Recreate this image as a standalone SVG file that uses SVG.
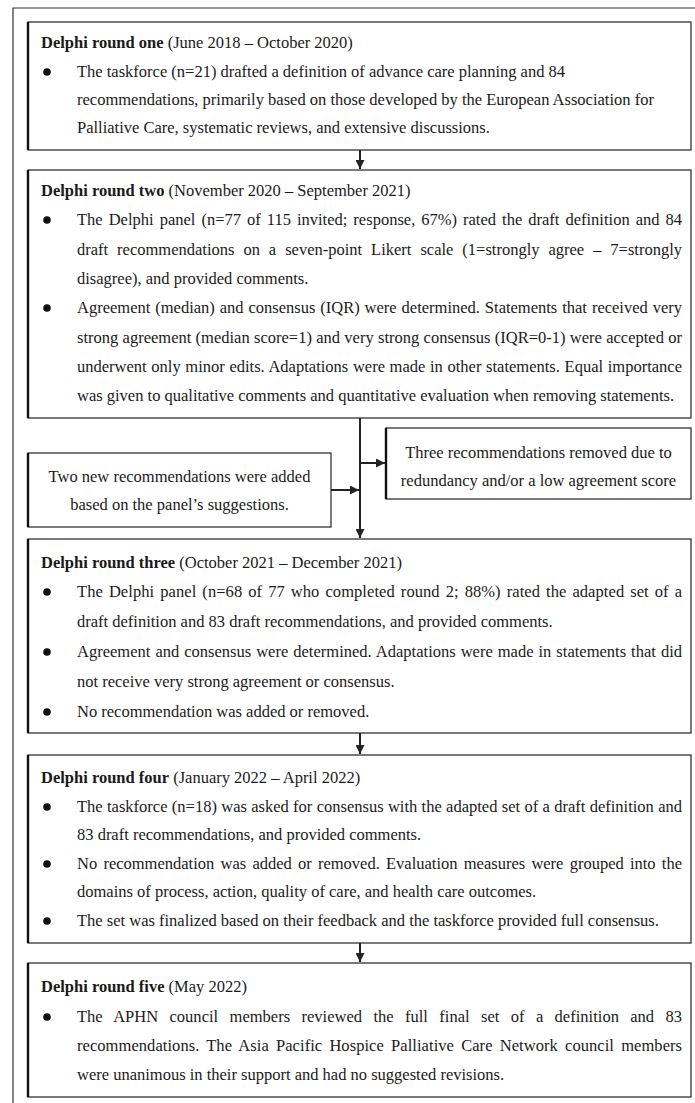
<svg xmlns="http://www.w3.org/2000/svg" width="695" height="1103" viewBox="0 0 695 1103">
<defs>
<style>
.bx{fill:#fff;stroke:#333;stroke-width:1.3}
.le{stroke:#111;stroke-width:2.4}
.t{font-family:"Liberation Serif","Times New Roman",serif;font-size:16.5px;fill:#1a1a1a}
.b{font-weight:bold}
.c{text-anchor:middle}
.dot{fill:#111}
.cn{stroke:#222;stroke-width:2;fill:none}
</style>
<marker id="ah" viewBox="0 0 10 10" refX="10" refY="5" markerWidth="9" markerHeight="9" markerUnits="userSpaceOnUse" orient="auto">
<path d="M0,0 L10,5 L0,10 z" fill="#222"/>
</marker>
</defs>
<rect width="695" height="1103" fill="#fff"/>
<path d="M695,8 H13 V1103" fill="none" stroke="#333" stroke-width="1.2"/>

<g id="round1">
<rect class="bx" x="28" y="22" width="663" height="128"/>
<line class="le" x1="28" y1="22" x2="28" y2="150"/>
<text class="t" x="41" y="48"><tspan class="b">Delphi round one</tspan> (June 2018 – October 2020)</text>
<circle class="dot" cx="47" cy="72" r="3.8"/>
<text class="t" x="77" y="77">The taskforce (n=21) drafted a definition of advance care planning and 84</text>
<text class="t" x="77" y="105">recommendations, primarily based on those developed by the European Association for</text>
<text class="t" x="77" y="133">Palliative Care, systematic reviews, and extensive discussions.</text>
</g>

<g id="round2">
<rect class="bx" x="28" y="170" width="663" height="248"/>
<line class="le" x1="28" y1="170" x2="28" y2="418"/>
<text class="t" x="41" y="196"><tspan class="b">Delphi round two</tspan> (November 2020 – September 2021)</text>
<circle class="dot" cx="47" cy="220" r="3.8"/>
<text class="t" x="77" y="225" word-spacing="1.86" textLength="605" lengthAdjust="spacing">The Delphi panel (n=77 of 115 invited; response, 67%) rated the draft definition and 84</text>
<text class="t" x="77" y="255" word-spacing="4.84" textLength="605" lengthAdjust="spacing">draft recommendations on a seven-point Likert scale (1=strongly agree – 7=strongly</text>
<text class="t" x="77" y="284">disagree), and provided comments.</text>
<circle class="dot" cx="47" cy="308" r="3.8"/>
<text class="t" x="77" y="313" word-spacing="0.8" textLength="605" lengthAdjust="spacing">Agreement (median) and consensus (IQR) were determined. Statements that received very</text>
<text class="t" x="77" y="343" word-spacing="0.2" textLength="605" lengthAdjust="spacing">strong agreement (median score=1) and very strong consensus (IQR=0-1) were accepted or</text>
<text class="t" x="77" y="372" word-spacing="0.47" textLength="605" lengthAdjust="spacing">underwent only minor edits. Adaptations were made in other statements. Equal importance</text>
<text class="t" x="77" y="401">was given to qualitative comments and quantitative evaluation when removing statements.</text>
</g>

<g id="removed">
<rect class="bx" x="386" y="428" width="305" height="71"/>
<line class="le" x1="386" y1="428" x2="386" y2="499"/>
<text class="t c" x="538.5" y="458">Three recommendations removed due to</text>
<text class="t c" x="538.5" y="486">redundancy and/or a low agreement score</text>
</g>

<g id="added">
<rect class="bx" x="28" y="453" width="303" height="74"/>
<line class="le" x1="28" y1="453" x2="28" y2="527"/>
<text class="t c" x="179.5" y="482">Two new recommendations were added</text>
<text class="t c" x="179.5" y="510">based on the panel’s suggestions.</text>
</g>

<g id="round3">
<rect class="bx" x="28" y="539" width="663" height="194"/>
<line class="le" x1="28" y1="539" x2="28" y2="733"/>
<text class="t" x="41" y="568"><tspan class="b">Delphi round three</tspan> (October 2021 – December 2021)</text>
<circle class="dot" cx="47" cy="592" r="3.8"/>
<text class="t" x="77" y="597" word-spacing="1.8" textLength="605" lengthAdjust="spacing">The Delphi panel (n=68 of 77 who completed round 2; 88%) rated the adapted set of a</text>
<text class="t" x="77" y="627">draft definition and 83 draft recommendations, and provided comments.</text>
<circle class="dot" cx="47" cy="652" r="3.8"/>
<text class="t" x="77" y="657" word-spacing="0.85" textLength="605" lengthAdjust="spacing">Agreement and consensus were determined. Adaptations were made in statements that did</text>
<text class="t" x="77" y="687">not receive very strong agreement or consensus.</text>
<circle class="dot" cx="47" cy="712" r="3.8"/>
<text class="t" x="77" y="717">No recommendation was added or removed.</text>
</g>

<g id="round4">
<rect class="bx" x="28" y="755" width="663" height="188"/>
<line class="le" x1="28" y1="755" x2="28" y2="943"/>
<text class="t" x="41" y="783"><tspan class="b">Delphi round four</tspan> (January 2022 – April 2022)</text>
<circle class="dot" cx="47" cy="807" r="3.8"/>
<text class="t" x="77" y="812" word-spacing="0.2" textLength="605" lengthAdjust="spacing">The taskforce (n=18) was asked for consensus with the adapted set of a draft definition and</text>
<text class="t" x="77" y="840">83 draft recommendations, and provided comments.</text>
<circle class="dot" cx="47" cy="864" r="3.8"/>
<text class="t" x="77" y="869" word-spacing="2.09" textLength="605" lengthAdjust="spacing">No recommendation was added or removed. Evaluation measures were grouped into the</text>
<text class="t" x="77" y="897">domains of process, action, quality of care, and health care outcomes.</text>
<circle class="dot" cx="47" cy="921" r="3.8"/>
<text class="t" x="77" y="926">The set was finalized based on their feedback and the taskforce provided full consensus.</text>
</g>

<g id="round5">
<rect class="bx" x="28" y="963" width="663" height="134"/>
<line class="le" x1="28" y1="963" x2="28" y2="1097"/>
<text class="t" x="41" y="992"><tspan class="b">Delphi round five</tspan> (May 2022)</text>
<circle class="dot" cx="47" cy="1017" r="3.8"/>
<text class="t" x="77" y="1022" word-spacing="7.23" textLength="605" lengthAdjust="spacing">The APHN council members reviewed the full final set of a definition and 83</text>
<text class="t" x="77" y="1051" word-spacing="3" textLength="605" lengthAdjust="spacing">recommendations. The Asia Pacific Hospice Palliative Care Network council members</text>
<text class="t" x="77" y="1080">were unanimous in their support and had no suggested revisions.</text>
</g>

<g id="connectors">
<line class="cn" x1="360" y1="150" x2="360" y2="169" marker-end="url(#ah)"/>
<line class="cn" x1="360" y1="418" x2="360" y2="538" marker-end="url(#ah)"/>
<line class="cn" x1="360" y1="463" x2="385" y2="463" marker-end="url(#ah)"/>
<line class="cn" x1="331" y1="490" x2="359" y2="490" marker-end="url(#ah)"/>
<line class="cn" x1="360" y1="733" x2="360" y2="754" marker-end="url(#ah)"/>
<line class="cn" x1="360" y1="943" x2="360" y2="962" marker-end="url(#ah)"/>
</g>
</svg>
